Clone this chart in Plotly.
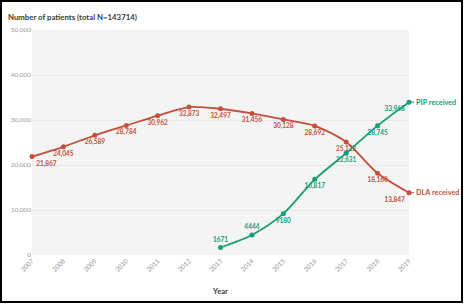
import plotly.graph_objects as go

years_dla = [2007, 2008, 2009, 2010, 2011, 2012, 2013, 2014, 2015, 2016, 2017, 2018, 2019]
dla = [21867, 24045, 26589, 28784, 30962, 32873, 32497, 31456, 30128, 28692, 25122, 18160, 13847]
dla_text = ["21,867", "24,045", "26,589", "28,784", "30,962", "32,873", "32,497", "31,456",
            "30,128", "28,692", "25,122", "18,160", "13,847"]
years_pip = [2013, 2014, 2015, 2016, 2017, 2018, 2019]
pip = [1671, 4444, 9180, 16817, 22631, 28745, 33968]
pip_text = ["1671", "4444", "9180", "16,817", "22,631", "28,745", "33,968"]
x_ticks = list(range(2007, 2020))
y_ticks = [0, 10000, 20000, 30000, 40000, 50000]

RED = "#c4503b"
GREEN = "#14a073"
FONT = "Lato"

W, H = 464, 304
L, R, T, B = 32, 409, 30, 255
pw, ph = R - L, B - T

def px(x):
    return (x - L) / pw

def py(y):
    return (B - y) / ph

dla_pos = ["bottom right"] + ["bottom center"] * (len(dla) - 2) + ["bottom left"]
pip_pos = ["top center", "top center"] + ["bottom center"] * (len(pip) - 3) + ["bottom left"]

fig = go.Figure()
fig.add_trace(go.Scatter(
    x=years_dla, y=dla, mode="lines+markers+text", text=dla_text,
    textposition=dla_pos, textfont=dict(family=FONT, size=6.5, color=RED, weight="bold"),
    line=dict(color=RED, width=1.8, shape="spline", smoothing=0.8),
    marker=dict(color=RED, size=5), cliponaxis=False, showlegend=False, name="DLA received"))
fig.add_trace(go.Scatter(
    x=years_pip, y=pip, mode="lines+markers+text", text=pip_text,
    textposition=pip_pos, textfont=dict(family=FONT, size=6.5, color=GREEN, weight="bold"),
    line=dict(color=GREEN, width=1.8, shape="spline", smoothing=0.8),
    marker=dict(color=GREEN, size=5), cliponaxis=False, showlegend=False, name="PIP received"))

for name, xs, ys, col in [("PIP received", years_pip, pip, GREEN), ("DLA received", years_dla, dla, RED)]:
    fig.add_annotation(x=xs[-1], y=ys[-1], text=name, showarrow=True, arrowhead=0,
                       arrowcolor=col, arrowwidth=1, ax=5, ay=0, xanchor="left",
                       standoff=2, font=dict(family=FONT, size=7.3, color=col, weight="bold"))

fig.add_annotation(xref="paper", yref="paper", x=px(6), y=py(17), xanchor="left", yanchor="middle",
                   text="<b>Number of patients (total N=143714)</b>", showarrow=False,
                   font=dict(family=FONT, size=7.8, color="#3a3a3a"))

fig.add_shape(type="rect", xref="paper", yref="paper", x0=px(1), x1=px(462), y0=py(302), y1=py(1),
              line=dict(color="black", width=2), fillcolor="rgba(0,0,0,0)", layer="above")

fig.update_layout(
    template="none",
    width=W, height=H, margin=dict(l=L, r=W - R, t=T, b=H - B, autoexpand=False),
    paper_bgcolor="white", plot_bgcolor="#f4f4f4",
    font=dict(family=FONT, color="#888888", size=6.5),
    xaxis=dict(range=[2007, 2019], tickvals=x_ticks, ticktext=[str(v) for v in x_ticks],
               tickangle=-45, showgrid=False, zeroline=False, ticks="", showline=False,
               automargin=False, tickfont=dict(size=6.5, color="#999999"),
               title=dict(text="<b>Year</b>", font=dict(size=7.6, color="#3a3a3a"), standoff=16)),
    yaxis=dict(range=[0, 50000], tickvals=y_ticks, tickformat=",", showgrid=True,
               gridcolor="#e8e8e8", gridwidth=1, zeroline=False, ticks="", showline=False,
               automargin=False, tickfont=dict(size=6.5, color="#999999")),
)

fig.write_html("out.html", config={"displayModeBar": False},
               post_script="document.body.style.margin='0';document.body.style.overflow='hidden';")
